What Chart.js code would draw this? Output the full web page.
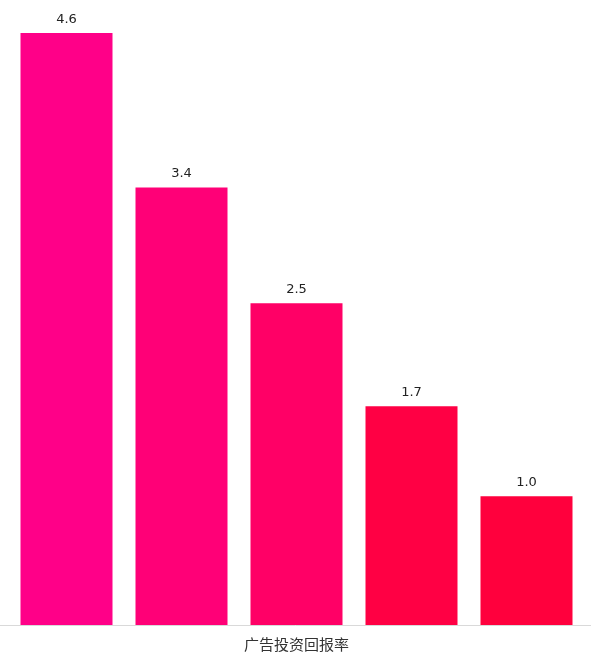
<!DOCTYPE html>
<html>
<head>
<meta charset="utf-8">
<script src="https://cdn.jsdelivr.net/npm/chart.js@4/dist/chart.umd.min.js"></script>
<style>
  html, body { margin: 0; padding: 0; background: #fff; }
  #wrap { width: 591px; height: 662px; position: relative; }
</style>
</head>
<body>
<div id="wrap"><canvas id="roi-chart"></canvas></div>
<script>
// Chart data
var categories = ['A', 'B', 'C', 'D', 'E'];
var roiValues = [4.6, 3.4, 2.5, 1.7, 1.0];
var valueLabels = ['4.6', '3.4', '2.5', '1.7', '1.0'];
var axisTitle = '广告投资回报率';

// Colours fade from pink to red
var barColors = ['#ff0088', '#ff0077', '#ff0066', '#ff0044', '#ff003d'];

// Draws the value above each bar
var valueLabelPlugin = {
  id: 'valueLabels',
  afterDatasetsDraw: function(chart) {
    var ctx = chart.ctx;
    var meta = chart.getDatasetMeta(0);
    ctx.save();
    ctx.font = '13px "DejaVu Sans", sans-serif';
    ctx.fillStyle = '#222';
    ctx.textAlign = 'center';
    ctx.textBaseline = 'bottom';
    meta.data.forEach(function(bar, i) {
      ctx.fillText(valueLabels[i], bar.x, bar.y - 7);
    });
    ctx.restore();
  }
};

// Baseline across the full width
var baselinePlugin = {
  id: 'baseline',
  afterDraw: function(chart) {
    var ctx = chart.ctx;
    var y = Math.round(chart.chartArea.bottom) + 0.5;
    ctx.save();
    ctx.strokeStyle = '#d9d9d9';
    ctx.lineWidth = 1;
    ctx.beginPath();
    ctx.moveTo(0, y);
    ctx.lineTo(chart.width, y);
    ctx.stroke();
    ctx.restore();
  }
};

new Chart(document.getElementById('roi-chart'), {
  type: 'bar',
  data: {
    labels: categories,
    datasets: [{
      data: roiValues,
      backgroundColor: barColors,
      borderWidth: 0,
      categoryPercentage: 1,
      barPercentage: 0.8
    }]
  },
  options: {
    responsive: true,
    maintainAspectRatio: false,
    animation: false,
    layout: { padding: { top: 33, left: 9, right: 7, bottom: 9 } },
    plugins: {
      legend: { display: false },
      tooltip: { enabled: false }
    },
    scales: {
      x: {
        grid: { display: false },
        border: { display: false },
        ticks: { display: false },
        title: {
          display: true,
          text: axisTitle,
          color: '#333',
          font: { family: '"Noto Sans CJK SC", sans-serif', size: 15 },
          padding: { top: 2, bottom: 0 }
        }
      },
      y: {
        display: false,
        min: 0,
        max: Math.max.apply(null, roiValues)
      }
    }
  },
  plugins: [valueLabelPlugin, baselinePlugin]
});
</script>
</body>
</html>
